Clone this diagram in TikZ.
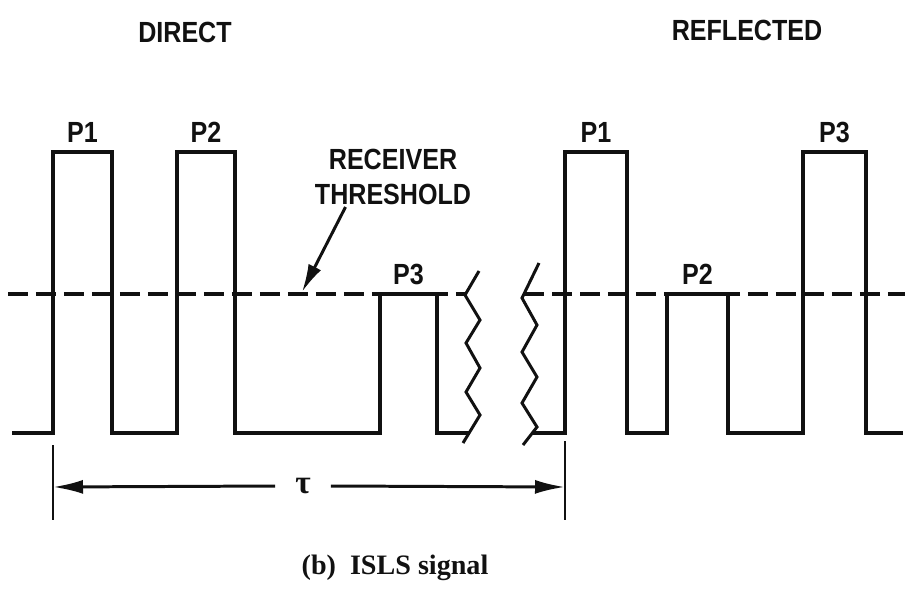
\documentclass[tikz,border=0pt]{standalone}
\usepackage{fontspec}
\setsansfont{Liberation Sans}
\setmainfont{Liberation Serif}
\usetikzlibrary{arrows.meta,positioning}
\definecolor{islsInk}{HTML}{111111}
\tikzset{
  every picture/.style={font=\sffamily\bfseries\fontsize{16.6}{19}\selectfont, text=islsInk},
  isls wave/.style={draw=islsInk, line width=2.8pt, line join=miter},
  isls thresh/.style={draw=islsInk, line width=2.1pt, dash pattern=on 0.4cm off 0.16cm},
  isls break/.style={draw=islsInk, line width=1.7pt, line join=miter},
  isls arrow/.style={-{Latex[length=5.6mm,width=2.8mm]}, draw=islsInk, line width=1.7pt},
  isls dim/.style={-{Latex[length=6mm,width=2.8mm]}, draw=islsInk, line width=1.7pt},
  isls tick/.style={draw=islsInk, line width=1.4pt},
  isls label/.style={inner sep=2pt, xscale=0.86, transform shape}
}

\begin{document}
\begin{tikzpicture}[x=0.02cm,y=-0.02cm]
  \useasboundingbox (0,0) rectangle (908,605);
  \node[isls label] (dirLbl) at (185,32) {DIRECT};
  \node[isls label] (refLbl) at (747,30) {REFLECTED};
  \draw[isls thresh] (8,294) -- (465,294);
  \draw[isls thresh] (524,294) -- (905,294);
  \coordinate (thrPt) at (302,292);
  \draw[isls wave] (12,433) -- (53,433) -- (53,152)
    -- node[isls label, above=2pt] (dP1) {P1} (112,152) -- (112,433) -- (177,433) -- (177,152)
    -- node[isls label, above=2pt] (dP2) {P2} (235,152) -- (235,433) -- (380,433) -- (380,294)
    -- node[isls label, above=2pt] (dP3) {P3} (437,294) -- (437,433) -- (469,433);
  \draw[isls wave] (532,433) -- (565,433) -- (565,152)
    -- node[isls label, above=2pt] (rP1) {P1} (627,152) -- (627,433) -- (667,433) -- (667,294)
    -- node[isls label, above=2pt] (rP2) {P2} (728,294) -- (728,433) -- (803,433) -- (803,152)
    -- node[isls label, above=2pt] (rP3) {P3} (866,152) -- (866,433) -- (903,433);
  \draw[isls break] (479,271) -- (465,295) -- (480,320) -- (466,343) -- (480,368)
    -- (466,392) -- (480,415) -- (463,443);
  \draw[isls break] (539,263) -- (522,298) -- (537,325) -- (522,352) -- (537,377)
    -- (522,403) -- (537,427) -- (523,445);
  \node[isls label, align=center] (thrLbl) at (393,177) {RECEIVER\\[1pt]THRESHOLD};
  \draw[isls arrow] ([xshift=-0.95cm,yshift=1pt]thrLbl.south) -- (thrPt);
  \coordinate (tickL) at (53,445);
  \coordinate (tickR) at (565,441);
  \draw[isls tick] (tickL) -- ++(0,75);
  \draw[isls tick] (tickR) -- ++(0,79);
  \coordinate (dimL) at (53,487);
  \coordinate (dimR) at (565,487);
  \node[minimum width=1.1cm, inner sep=0pt, font=\rmfamily\bfseries\fontsize{19}{20}\selectfont] (tauLbl) at (303,486) {τ};
  \draw[isls dim] (tauLbl.west) -- (dimL);
  \draw[isls dim] (tauLbl.east) -- (dimR);
  \node[font=\rmfamily\bfseries\fontsize{16}{19}\selectfont] (capLbl) at (395,568) {(b)\ \ ISLS signal};
\end{tikzpicture}
\end{document}
